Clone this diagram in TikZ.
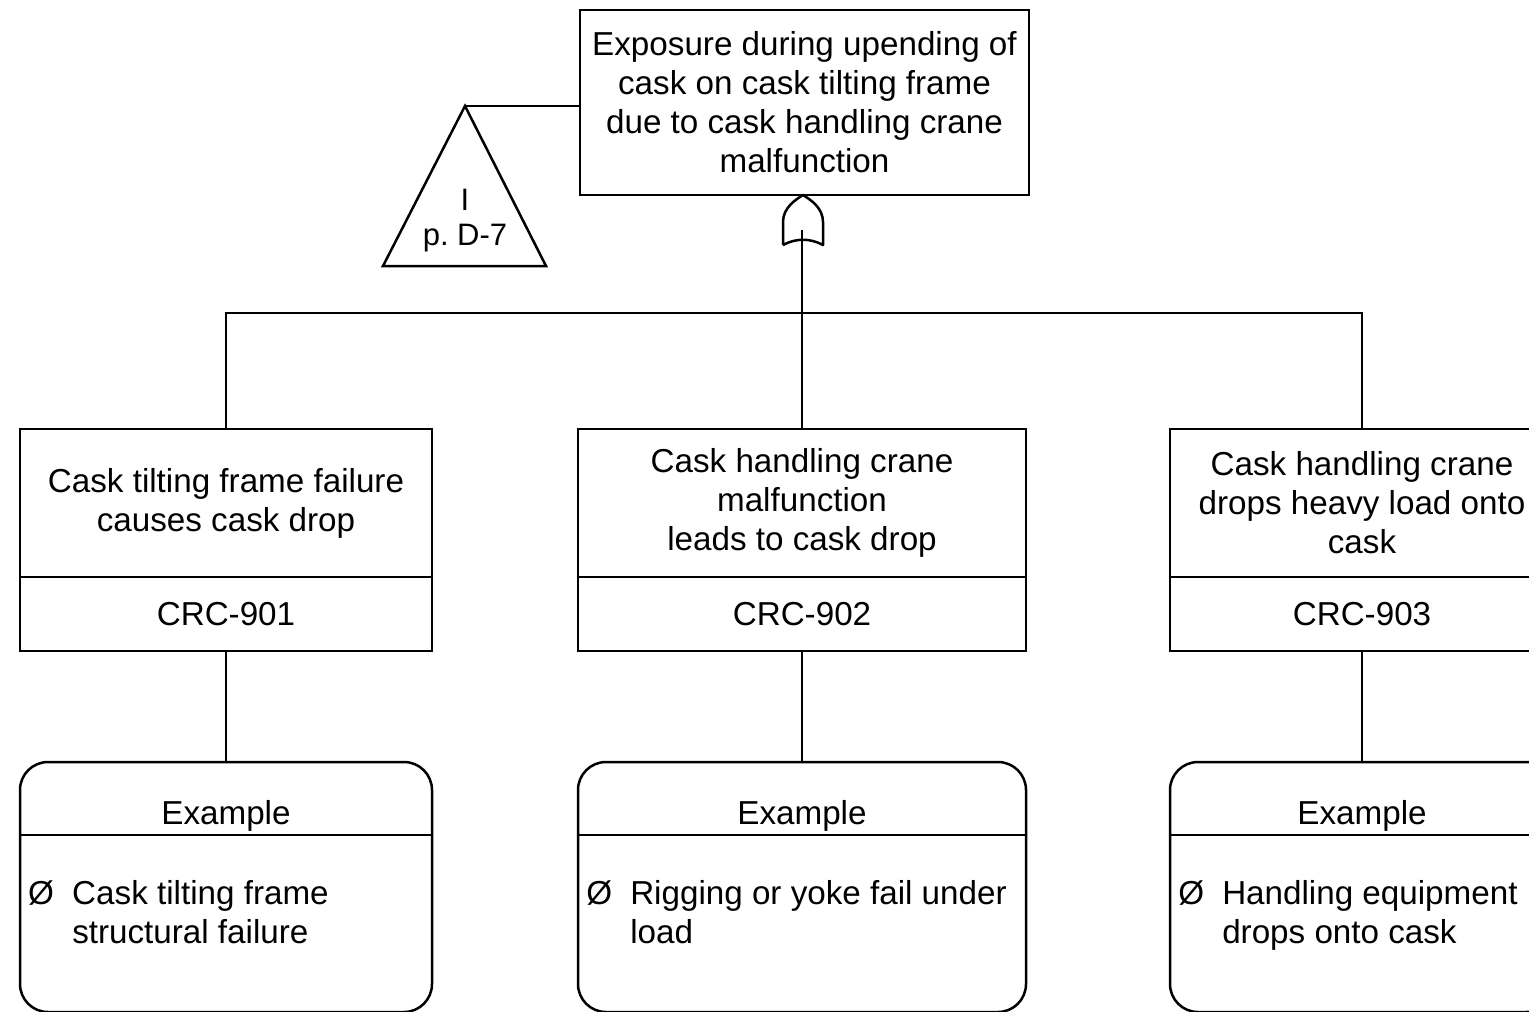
\documentclass[tikz,border=0pt]{standalone}
\usepackage{fontspec}
\setmainfont{Liberation Sans}
\begin{document}
\begin{tikzpicture}[x=0.5pt,y=-0.5pt,line width=1.25pt,
  txt/.style={font=\fontsize{16.6pt}{19.5pt}\selectfont,align=center,inner sep=0pt},
  box/.style={txt,draw,minimum height=74pt},
  idbox/.style={txt,draw,minimum height=37pt},
  exbox/.style={draw,rounded corners=14pt,minimum height=125pt,inner sep=0pt},
  bullet/.style={txt,align=left,anchor=west}]
\useasboundingbox (0,0) rectangle (1529,1011);
\clip (0,0) rectangle (1529,1011);

% top event
\node[txt,draw,minimum width=224.5pt,minimum height=92.5pt] (top) at (804.5,102.5)
  {Exposure during upending of\\cask on cask tilting frame\\due to cask handling crane\\malfunction};

% transfer triangle
\coordinate (tapex) at (465,106);
\draw[line join=miter] (tapex) -- (546,266) -- (383,266) -- cycle;
\node[txt,font=\fontsize{15.5pt}{17.5pt}\selectfont] (tlabel) at (465,221) {I\\p.\ D-7};
\draw (tapex) -- (top.west |- tapex);

% OR gate
\coordinate (gtop) at (803,195);
\coordinate (gin) at (802,230);
\coordinate (bar) at (802,313);
\draw[line join=round,fill=white] (783,245) -- (783,222)
  .. controls (783,208) and (795,200) .. (gtop)
  .. controls (811,200) and (823,208) .. (823,222)
  -- (823,245) .. controls (810,238) and (796,238) .. (783,245);

% intermediate events
\node[box,minimum width=206pt] (ev1) at (226,503) {Cask tilting frame failure\\causes cask drop};
\node[idbox,minimum width=206pt] (id1) at (226,614) {CRC-901};
\node[box,minimum width=224pt] (ev2) at (802,503) {Cask handling crane\\malfunction\\leads to cask drop};
\node[idbox,minimum width=224pt] (id2) at (802,614) {CRC-902};
\node[box,minimum width=192pt] (ev3) at (1362,503) {Cask handling crane\\drops heavy load onto\\cask};
\node[idbox,minimum width=192pt] (id3) at (1362,614) {CRC-903};

\draw (ev1.north) |- (bar) -| (ev3.north);
\draw (gin) -- (ev2.north);

% example boxes
\node[exbox,minimum width=206pt] (ex1) at (226,887) {};
\node[exbox,minimum width=224pt] (ex2) at (802,887) {};
\node[exbox,minimum width=192pt] (ex3) at (1362,887) {};
\foreach \e in {ex1,ex2,ex3}{
  \draw ([yshift=-37pt]\e.north west) -- ([yshift=-37pt]\e.north east);
}
\node[txt] (exh1) at (226,816) {Example};
\node[txt] (exh2) at (802,816) {Example};
\node[txt] (exh3) at (1362,816) {Example};
\node[bullet] (exb1) at (27,916) {\strut\makebox[22pt][l]{Ø}Cask tilting frame\\\hspace*{22pt}structural failure\strut};
\node[bullet] (exb2) at (585,916) {\strut\makebox[22pt][l]{Ø}Rigging or yoke fail under\\\hspace*{22pt}load\strut};
\node[bullet] (exb3) at (1177,916) {\strut\makebox[22pt][l]{Ø}Handling equipment\\\hspace*{22pt}drops onto cask\strut};

\draw (id1.south) -- (ex1.north);
\draw (id2.south) -- (ex2.north);
\draw (id3.south) -- (ex3.north);
\end{tikzpicture}
\end{document}
